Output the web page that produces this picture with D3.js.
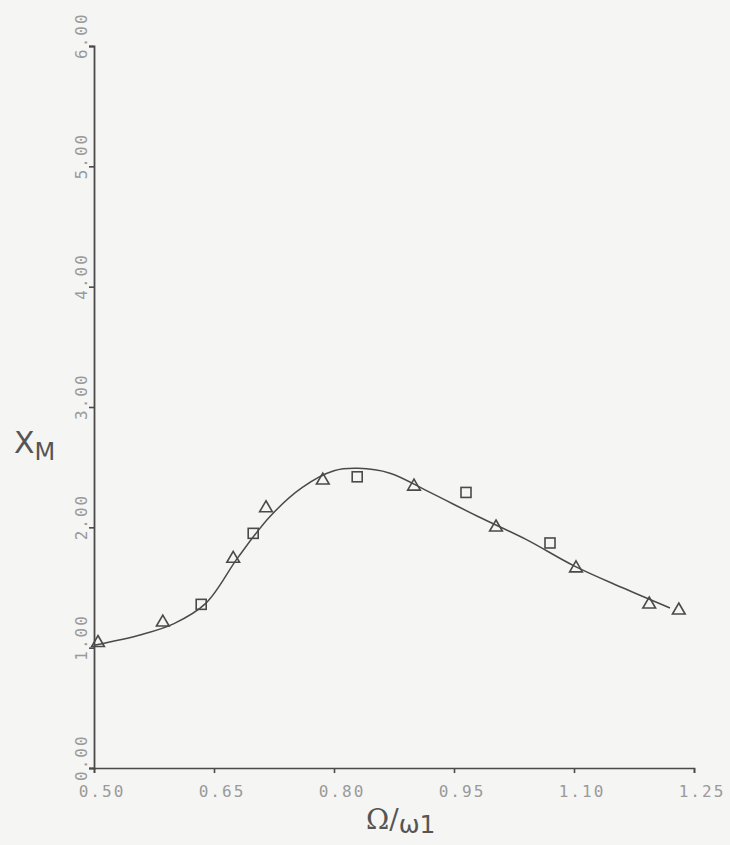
<!DOCTYPE html>
<html>
<head>
<meta charset="utf-8">
<script src="https://cdn.jsdelivr.net/npm/d3@7"></script>
<style>
  html, body { margin: 0; padding: 0; background: #f5f5f3; }
  svg { display: block; }
</style>
</head>
<body>
<svg id="chart" width="730" height="845"></svg>
<script>
// Frequency ratio axis and response amplitude axis
const xTicks = [0.50, 0.65, 0.80, 0.95, 1.10, 1.25];
const yTicks = [0, 1, 2, 3, 4, 5, 6];

// Fitted response curve
const curveX = [0.50, 0.56, 0.60, 0.64, 0.68, 0.72, 0.76, 0.80, 0.83, 0.87, 0.92, 0.98, 1.04, 1.10, 1.16, 1.22];
const curveY = [1.02, 1.11, 1.20, 1.37, 1.75, 2.09, 2.33, 2.47, 2.49, 2.45, 2.29, 2.09, 1.90, 1.68, 1.50, 1.33];

// Measured points, triangle symbols
const triX = [0.505, 0.586, 0.674, 0.715, 0.786, 0.900, 1.0025, 1.1025, 1.194, 1.231];
const triY = [1.04, 1.21, 1.74, 2.16, 2.39, 2.34, 2.00, 1.66, 1.36, 1.31];

// Measured points, square symbols
const sqX = [0.634, 0.699, 0.829, 0.965, 1.070];
const sqY = [1.36, 1.95, 2.42, 2.29, 1.87];

const svg = d3.select("#chart");
const x = d3.scaleLinear().domain([0.50, 1.25]).range([94, 694]);
const y = d3.scaleLinear().domain([0, 6]).range([768, 46]);

const ink = "#4a4a4a";
const labelInk = "#9a9a9a";
const mono = "'DejaVu Sans Mono', 'Liberation Mono', monospace";

// X axis with ticks hanging below the line
const xAxis = svg.append("g").attr("transform", `translate(0,${y(0)})`)
  .call(d3.axisBottom(x).tickValues(xTicks).tickSize(5).tickFormat(""));
xAxis.select(".domain").attr("stroke", ink).attr("stroke-width", 1.6);
xAxis.selectAll(".tick line").attr("stroke", ink).attr("stroke-width", 1.6);

svg.append("g").selectAll("text").data(xTicks).join("text")
  .attr("x", d => x(d) + 8)
  .attr("y", 797)
  .attr("text-anchor", "middle")
  .attr("font-family", mono)
  .attr("font-size", 16)
  .attr("letter-spacing", 2)
  .attr("fill", labelInk)
  .text(d => d.toFixed(2));

// Y axis with ticks to the left
const yAxis = svg.append("g").attr("transform", `translate(${x(0.50)},0)`)
  .call(d3.axisLeft(y).tickValues(yTicks).tickSize(5).tickFormat(""));
yAxis.select(".domain").attr("stroke", ink).attr("stroke-width", 1.8);
yAxis.selectAll(".tick line").attr("stroke", ink).attr("stroke-width", 1.6);

// Rotated y tick labels reading upward
svg.append("g").selectAll("text").data(yTicks).join("text")
  .attr("transform", d => `translate(87,${y(d) + 13}) rotate(-90)`)
  .attr("text-anchor", "start")
  .attr("font-family", mono)
  .attr("font-size", 16)
  .attr("letter-spacing", 2)
  .attr("fill", labelInk)
  .text(d => d.toFixed(2));

// Axis titles
const yTitle = svg.append("text")
  .attr("x", 14).attr("y", 453)
  .attr("font-family", "'DejaVu Sans', sans-serif")
  .attr("fill", "#555");
yTitle.append("tspan").attr("font-size", 30).text("X");
yTitle.append("tspan").attr("font-size", 24).attr("dy", 7).text("M");

const xTitle = svg.append("text")
  .attr("x", 366).attr("y", 829)
  .attr("fill", "#555");
xTitle.append("tspan").attr("font-family", "'DejaVu Serif', serif").attr("font-size", 28).text("Ω/");
xTitle.append("tspan").attr("font-family", "'DejaVu Sans', sans-serif").attr("font-size", 25).attr("dy", 4).text("ω1");

// Response curve
const line = d3.line()
  .x((d, i) => x(curveX[i]))
  .y((d, i) => y(curveY[i]))
  .curve(d3.curveCatmullRom.alpha(0.5));
svg.append("path")
  .datum(curveX)
  .attr("d", line)
  .attr("fill", "none")
  .attr("stroke", ink)
  .attr("stroke-width", 1.5);

// Triangle markers
const tri = d3.symbol().type(d3.symbolTriangle).size(70);
svg.append("g").selectAll("path").data(triX).join("path")
  .attr("transform", (d, i) => `translate(${x(d)},${y(triY[i])})`)
  .attr("d", tri)
  .attr("fill", "none")
  .attr("stroke", ink)
  .attr("stroke-width", 1.6);

// Square markers
svg.append("g").selectAll("rect").data(sqX).join("rect")
  .attr("x", d => x(d) - 5)
  .attr("y", (d, i) => y(sqY[i]) - 5)
  .attr("width", 10)
  .attr("height", 10)
  .attr("fill", "none")
  .attr("stroke", ink)
  .attr("stroke-width", 1.6);
</script>
</body>
</html>
